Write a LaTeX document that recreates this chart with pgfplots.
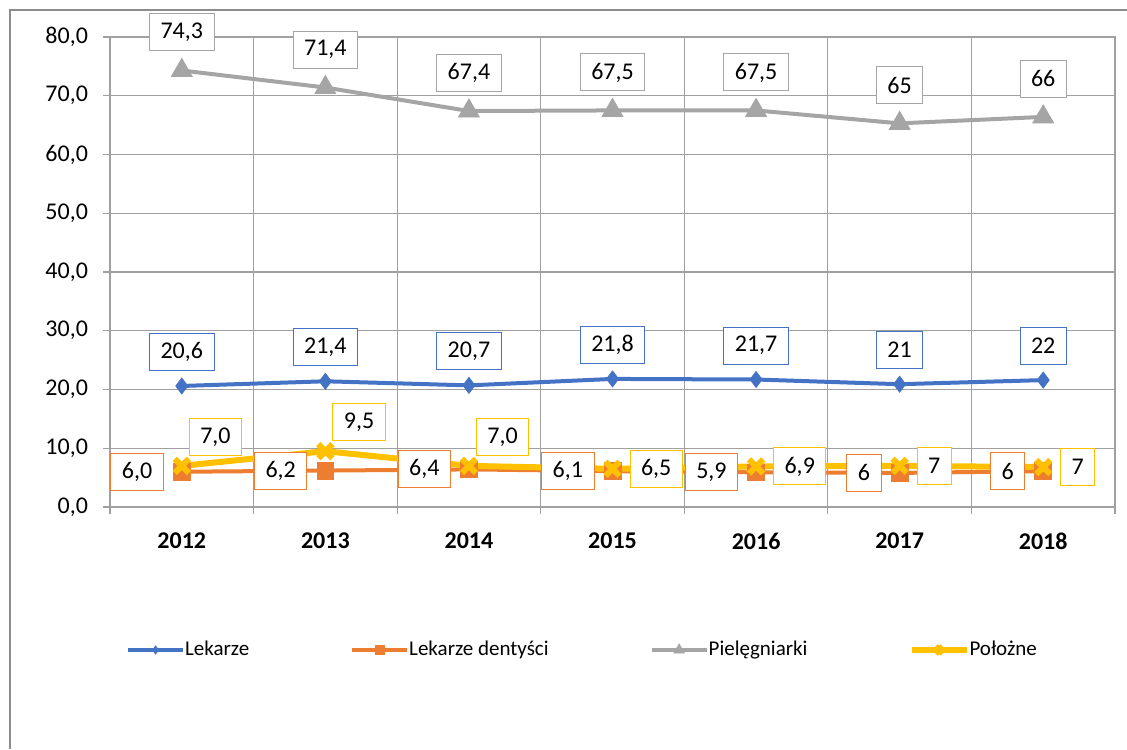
\documentclass[border=0pt]{standalone}
\usepackage{pgfplots}
\pgfplotsset{compat=1.18}
\usepackage{pgfplotstable}
\usepackage{fontspec}
\setmainfont{Carlito}

\definecolor{cblue}{RGB}{68,114,196}
\definecolor{corange}{RGB}{237,125,49}
\definecolor{cgray}{RGB}{165,165,165}
\definecolor{cyellow}{RGB}{255,192,0}
\definecolor{gridc}{RGB}{160,160,160}
\definecolor{framec}{RGB}{140,140,140}

\pgfplotstableread{
x y lab
0 20.6 20,6
1 21.4 21,4
2 20.7 20,7
3 21.8 21,8
4 21.7 21,7
5 20.9 21
6 21.6 22
}\lek
\pgfplotstableread{
x y lab
0 6.0 6,0
1 6.2 6,2
2 6.4 6,4
3 6.1 6,1
4 5.9 5,9
5 5.8 6
6 6.1 6
}\den
\pgfplotstableread{
x y lab
0 74.3 74,3
1 71.4 71,4
2 67.4 67,4
3 67.5 67,5
4 67.5 67,5
5 65.3 65
6 66.4 66
}\pie
\pgfplotstableread{
x y lab
0 7.0 7,0
1 9.5 9,5
2 7.0 7,0
3 6.5 6,5
4 6.9 6,9
5 7.0 7
6 6.8 7
}\pol

\newcommand{\lblfont}{\fontsize{12}{14}\selectfont}
\newcommand{\legfont}{\fontsize{10.5}{12}\selectfont}
\tikzset{lab/.style={fill=white, text=black, inner xsep=5.5pt, inner ysep=0pt, minimum height=18.5pt, line width=0.5pt, font=\lblfont}}

\begin{document}
\begin{tikzpicture}[x=1pt,y=1pt]
\useasboundingbox (0,0) rectangle (563.5,374.5);
\draw[framec, line width=0.7pt] (5,0) -- (5,369.5) -- (563.5,369.5);
\begin{axis}[
  at={(55pt,121pt)}, anchor=south west,
  scale only axis, width=502.5pt, height=235pt,
  xmin=-0.5, xmax=6.5, ymin=0, ymax=80,
  clip=false,
  font=\lblfont,
  xtick={-0.5,0.5,...,6.5},
  xticklabels={},
  extra x ticks={0,1,2,3,4,5,6},
  extra x tick labels={2012,2013,2014,2015,2016,2017,2018},
  extra x tick style={grid=none, major tick length=0pt},
  xticklabel style={font=\lblfont\bfseries, yshift=-9.5pt},
  ytick={0,10,...,80},
  yticklabel style={/pgf/number format/.cd, fixed, fixed zerofill, precision=1, use comma, assume math mode=true, /tikz/.cd, xshift=-4pt, font=\lblfont},
  xmajorgrids=true, ymajorgrids=true,
  grid style={gridc, line width=0.6pt},
  axis line style={gridc, line width=0.6pt},
  tick style={gridc, line width=0.6pt},
  tick align=outside, xtick pos=bottom, ytick pos=left,
  major tick length=3.5pt,
  legend columns=4,
  legend style={at={(0.4711,-0.3043)}, anchor=center, draw=none, fill=none, font=\legfont,
    /tikz/every even column/.append style={column sep=48.5pt},
    /tikz/every odd column/.append style={column sep=-2pt}},
  legend image code/.code={\draw[mark repeat=2,mark phase=2,#1, every mark/.append style={scale=0.5}] plot coordinates {(0pt,0pt) (13.75pt,0pt) (27.5pt,0pt)};},
]
\addplot[cblue, line width=2pt, mark=diamond*, mark size=4pt, mark options={line width=0.4pt}] table[x=x,y=y] {\lek};
\addlegendentry{Lekarze}
\addplot[corange, line width=2pt, mark=square*, mark size=4.2pt, mark options={line width=0.4pt}] table[x=x,y=y] {\den};
\addlegendentry{Lekarze dentyści}
\addplot[cgray, line width=2pt, mark=triangle*, mark size=6pt, mark options={line width=0.4pt}] table[x=x,y=y] {\pie};
\addlegendentry{Pielęgniarki}
\addplot[cyellow, line width=3pt, mark=x, mark size=5pt, mark options={line width=3pt}] table[x=x,y=y] {\pol};
\addlegendentry{Położne}

\addplot[draw=none, mark=none, forget plot, nodes near coords, point meta=explicit symbolic,
  nodes near coords style={lab, draw=cblue, anchor=south, yshift=7.5pt}] table[x=x,y=y,meta=lab] {\lek};
\addplot[draw=none, mark=none, forget plot, nodes near coords, point meta=explicit symbolic,
  nodes near coords style={lab, draw=corange, anchor=east, xshift=-9pt}] table[x=x,y=y,meta=lab] {\den};
\addplot[draw=none, mark=none, forget plot, nodes near coords, point meta=explicit symbolic,
  nodes near coords style={lab, draw=cgray, anchor=south, yshift=9.5pt}] table[x=x,y=y,meta=lab] {\pie};
\addplot[draw=none, mark=none, forget plot, nodes near coords, point meta=explicit symbolic,
  restrict x to domain=-0.1:2.1,
  nodes near coords style={lab, draw=cyellow, anchor=south west, xshift=3.5pt, yshift=5pt}] table[x=x,y=y,meta=lab] {\pol};
\addplot[draw=none, mark=none, forget plot, nodes near coords, point meta=explicit symbolic,
  restrict x to domain=2.9:6.1,
  nodes near coords style={lab, draw=cyellow, anchor=west, xshift=8.5pt}] table[x=x,y=y,meta=lab] {\pol};
\end{axis}
\end{tikzpicture}
\end{document}
